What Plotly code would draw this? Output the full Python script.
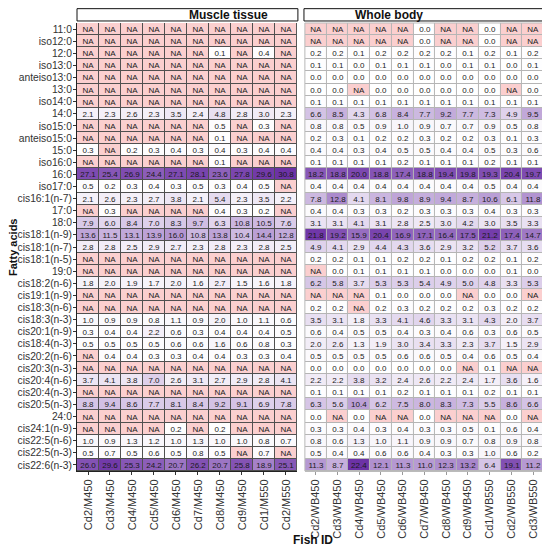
import plotly.graph_objects as go

NA = None
fatty_acids = ["11:0", "iso12:0", "12:0", "iso13:0", "anteiso13:0", "13:0", "iso14:0", "14:0",
               "iso15:0", "anteiso15:0", "15:0", "iso16:0", "16:0", "iso17:0", "cis16:1(n-7)", "17:0",
               "18:0", "cis18:1(n-9)", "cis18:1(n-7)", "cis18:1(n-5)", "19:0", "cis18:2(n-6)",
               "cis19:1(n-9)", "cis18:3(n-6)", "cis18:3(n-3)", "cis20:1(n-9)", "cis18:4(n-3)",
               "cis20:2(n-6)", "cis20:3(n-3)", "cis20:4(n-6)", "cis20:4(n-3)", "cis20:5(n-3)", "24:0",
               "cis24:1(n-9)", "cis22:5(n-6)", "cis22:5(n-3)", "cis22:6(n-3)"]

muscle_ids = ["Cd2/M450", "Cd3/M450", "Cd4/M450", "Cd5/M450", "Cd6/M450", "Cd7/M450",
              "Cd8/M450", "Cd9/M450", "Cd1/M550", "Cd2/M550"]
wb_ids = ["Cd2/WB450", "Cd3/WB450", "Cd4/WB450", "Cd5/WB450", "Cd6/WB450", "Cd7/WB450",
          "Cd8/WB450", "Cd9/WB450", "Cd1/WB550", "Cd2/WB550", "Cd3/WB550"]

A10 = [NA] * 10
muscle_values = [
    A10, A10,
    [NA, NA, NA, NA, NA, NA, 0.1, NA, 0.4, NA],
    A10, A10, A10, A10,
    [2.1, 2.3, 2.6, 2.3, 3.5, 2.4, 4.8, 2.8, 3.0, 2.3],
    [NA, NA, NA, NA, NA, NA, 0.5, NA, 0.3, NA],
    [NA, NA, NA, NA, NA, NA, 0.1, NA, NA, NA],
    [0.3, NA, 0.2, 0.3, 0.4, 0.3, 0.4, 0.3, 0.4, 0.4],
    [NA, NA, NA, NA, NA, NA, 0.1, NA, NA, NA],
    [27.1, 25.4, 26.9, 24.4, 27.1, 28.1, 23.6, 27.8, 29.6, 30.8],
    [0.5, 0.2, 0.3, 0.4, 0.3, 0.5, 0.3, 0.4, 0.5, NA],
    [2.1, 2.6, 2.3, 2.7, 3.8, 2.1, 5.4, 2.3, 3.5, 2.2],
    [NA, 0.3, NA, NA, NA, NA, 0.4, 0.3, 0.2, NA],
    [7.9, 6.0, 8.4, 7.0, 8.3, 9.7, 6.3, 10.8, 10.5, 7.6],
    [13.6, 11.5, 13.1, 13.9, 16.0, 10.8, 13.8, 10.4, 14.4, 12.8],
    [2.8, 2.8, 2.5, 2.9, 2.7, 2.3, 2.8, 2.3, 2.8, 2.5],
    A10, A10,
    [1.8, 2.0, 1.9, 1.7, 2.0, 1.6, 2.7, 1.5, 1.6, 1.8],
    A10, A10,
    [1.0, 0.9, 0.9, 0.8, 1.1, 0.9, 2.0, 1.0, 1.1, 0.6],
    [0.3, 0.4, 0.4, 2.2, 0.6, 0.3, 0.4, 0.4, 0.4, 0.5],
    [0.5, 0.5, 0.5, 0.5, 0.6, 0.6, 1.6, 0.6, 0.8, 0.3],
    [NA, 0.4, 0.4, 0.3, 0.3, 0.4, 0.4, 0.3, 0.3, 0.4],
    A10,
    [3.7, 4.1, 3.8, 7.0, 2.6, 3.1, 2.7, 2.9, 2.8, 4.1],
    A10,
    [8.8, 9.4, 8.6, 7.7, 8.1, 8.4, 9.2, 9.1, 6.9, 7.8],
    A10,
    [NA, NA, NA, NA, 0.2, NA, 0.2, NA, NA, NA],
    [1.0, 0.9, 1.3, 1.2, 1.0, 1.3, 1.0, 1.0, 0.8, 0.7],
    [0.5, 0.7, 0.5, 0.6, 0.5, 0.8, 0.5, NA, 0.7, NA],
    [26.0, 29.6, 25.3, 24.2, 20.7, 26.2, 20.7, 25.8, 18.9, 25.1],
]

wb_values = [
    [NA, NA, NA, NA, NA, 0.0, NA, NA, 0.0, NA, NA],
    [NA, NA, NA, NA, NA, 0.0, NA, NA, 0.0, NA, NA],
    [0.2, 0.2, 0.1, 0.2, 0.2, 0.2, 0.2, 0.1, 0.2, 0.1, 0.2],
    [0.1, 0.1, 0.0, 0.1, 0.1, 0.1, 0.0, 0.1, 0.1, 0.0, 0.1],
    [0.0, 0.0, 0.0, 0.0, 0.0, 0.0, 0.0, 0.0, 0.0, 0.0, 0.0],
    [0.0, 0.0, NA, 0.0, 0.0, 0.0, 0.0, 0.0, 0.0, NA, 0.0],
    [0.1, 0.1, 0.1, 0.1, 0.1, 0.1, 0.1, 0.1, 0.1, 0.1, 0.1],
    [6.6, 8.5, 4.3, 6.8, 8.4, 7.7, 9.2, 7.7, 7.3, 4.9, 9.5],
    [0.8, 0.8, 0.5, 0.9, 1.0, 0.9, 0.7, 0.7, 0.9, 0.5, 0.8],
    [0.2, 0.3, 0.1, 0.2, 0.2, 0.3, 0.2, 0.2, 0.3, 0.1, 0.3],
    [0.4, 0.4, 0.3, 0.4, 0.5, 0.5, 0.4, 0.4, 0.5, 0.3, 0.6],
    [0.1, 0.1, 0.1, 0.1, 0.2, 0.1, 0.1, 0.1, 0.2, 0.1, 0.1],
    [18.2, 18.8, 20.0, 18.8, 17.4, 18.8, 19.4, 19.8, 19.3, 20.4, 19.7],
    [0.4, 0.4, 0.4, 0.4, 0.4, 0.4, 0.4, 0.4, 0.5, 0.4, 0.4],
    [7.8, 12.8, 4.1, 8.1, 9.8, 8.9, 9.4, 8.7, 10.6, 6.1, 11.8],
    [0.4, 0.4, 0.3, 0.3, 0.2, 0.3, 0.3, 0.3, 0.4, 0.3, 0.3],
    [3.1, 3.1, 4.1, 3.1, 2.8, 2.5, 3.0, 4.2, 3.0, 3.5, 3.3],
    [21.8, 19.2, 15.9, 20.4, 16.9, 17.1, 16.4, 17.5, 21.2, 17.4, 14.7],
    [4.9, 4.1, 2.9, 4.4, 4.3, 3.6, 2.9, 3.2, 5.2, 3.7, 3.6],
    [0.2, 0.2, 0.1, 0.1, 0.2, 0.2, 0.1, 0.2, 0.2, 0.1, 0.2],
    [NA, 0.0, 0.1, 0.1, 0.1, 0.1, 0.0, 0.0, 0.0, 0.1, 0.0],
    [6.2, 5.8, 3.7, 5.3, 5.3, 5.4, 4.9, 5.0, 4.8, 3.3, 5.3],
    [NA, NA, NA, 0.1, 0.0, 0.0, 0.0, NA, 0.0, 0.0, NA],
    [0.2, 0.2, NA, 0.2, 0.3, 0.2, 0.2, 0.2, 0.3, 0.2, 0.2],
    [3.5, 3.1, 1.8, 3.3, 4.1, 4.6, 3.3, 3.1, 4.3, 2.0, 3.7],
    [0.6, 0.4, 0.5, 0.5, 0.4, 0.3, 0.4, 0.6, 0.3, 0.6, 0.5],
    [2.0, 2.6, 1.3, 1.9, 3.0, 3.4, 3.3, 2.3, 3.7, 1.5, 2.9],
    [0.5, 0.5, 0.5, 0.5, 0.6, 0.6, 0.5, 0.4, 0.6, 0.5, 0.4],
    [0.0, 0.0, 0.0, 0.0, 0.0, 0.0, 0.0, NA, 0.1, NA, NA],
    [2.2, 2.2, 3.8, 3.2, 2.4, 2.6, 2.2, 2.4, 1.7, 3.6, 1.6],
    [0.1, 0.1, 0.1, 0.1, 0.2, 0.1, 0.1, 0.1, 0.2, 0.1, 0.1],
    [6.3, 5.6, 10.4, 6.2, 7.5, 8.0, 8.3, 7.3, 5.5, 8.6, 6.6],
    [0.0, NA, 0.0, NA, NA, 0.0, NA, NA, NA, 0.0, NA],
    [0.3, 0.3, 0.4, 0.3, 0.4, 0.3, 0.3, 0.5, 0.1, 0.6, 0.4],
    [0.8, 0.6, 1.3, 1.0, 1.1, 0.9, 0.9, 0.7, 0.8, 0.9, 0.8],
    [0.5, 0.4, 0.4, 0.6, 0.6, 0.4, 0.3, 0.3, 1.0, 0.6, 0.2],
    [11.3, 8.7, 22.4, 12.1, 11.3, 11.0, 12.3, 13.2, 6.4, 19.1, 11.2],
]

PURPLE = "#6c32a6"
PINK = "#fbcfcf"
FONT = "Liberation Sans, Arial, sans-serif"


def panel_traces(values, cols, xa):
    zmax = max(v for row in values for v in row if v is not None)
    text = [["" if v is None else f"{v:.1f}" for v in row] for row in values]
    na_z = [[1 if v is None else None for v in row] for row in values]
    na_text = [["NA" if v is None else "" for v in row] for row in values]
    main = go.Heatmap(z=values, x=cols, y=fatty_acids, text=text, texttemplate="%{text}",
                      textfont=dict(size=8, color="#1a1a1a", family=FONT),
                      colorscale=[[0, "#ffffff"], [1, PURPLE]], zmin=0, zmax=zmax,
                      xgap=1, ygap=1, showscale=False, hoverinfo="skip",
                      xaxis=xa, yaxis="y")
    na = go.Heatmap(z=na_z, x=cols, y=fatty_acids, text=na_text, texttemplate="%{text}",
                    textfont=dict(size=8, color="#1a1a1a", family=FONT),
                    colorscale=[[0, PINK], [1, PINK]], zmin=0, zmax=1,
                    xgap=1, ygap=1, showscale=False, hoverinfo="skip",
                    xaxis=xa, yaxis="y")
    return [main, na]


fig = go.Figure()
for t in panel_traces(muscle_values, muscle_ids, "x"):
    fig.add_trace(t)
for t in panel_traces(wb_values, wb_ids, "x2"):
    fig.add_trace(t)

d1 = [0.0, 0.471]
d2 = [0.488, 1.0]

axis_common = dict(type="category", tickangle=-90, ticks="outside", ticklen=3,
                   tickfont=dict(size=11, color="#333333", family=FONT),
                   showgrid=False, zeroline=False, showline=True, mirror=False,
                   automargin=False)

fig.update_layout(
    width=542, height=543,
    margin=dict(l=69, r=6, t=15, b=80, autoexpand=False),
    paper_bgcolor="white", plot_bgcolor="white",
    font=dict(family=FONT),
    xaxis=dict(domain=d1, anchor="y", linecolor="#222222", tickcolor="#333333", **axis_common),
    xaxis2=dict(domain=d2, anchor="y", linecolor="#bbbbbb", tickcolor="#999999", **axis_common),
    yaxis=dict(type="category", categoryorder="array", categoryarray=fatty_acids,
               tickmode="array", tickvals=fatty_acids, ticktext=fatty_acids,
               autorange="reversed", ticks="outside", ticklen=3, tickcolor="#333333",
               tickfont=dict(size=10.3, color="#333333", family=FONT),
               ticklabelstandoff=-1,
               showgrid=False, zeroline=False, showline=True, linecolor="#222222",
               automargin=False),
    shapes=[
        dict(type="rect", xref="x domain", yref="y domain", x0=0, x1=1, y0=0, y1=1,
             fillcolor="#505050", line=dict(width=0), layer="below"),
        dict(type="rect", xref="x2 domain", yref="y domain", x0=0, x1=1, y0=0, y1=1,
             fillcolor="#b5b5b5", line=dict(width=0), layer="below"),
        dict(type="rect", xref="x2 domain", yref="y domain", x0=0, x1=1, y0=0, y1=1,
             fillcolor="rgba(0,0,0,0)", line=dict(width=1, color="#bbbbbb"), layer="above"),
        dict(type="rect", xref="paper", yref="paper", x0=0.0, x1=0.473, y0=1.0045, y1=1.032,
             fillcolor="white", line=dict(width=1, color="#111111")),
        dict(type="rect", xref="paper", yref="paper", x0=0.486, x1=1.006, y0=1.0045, y1=1.032,
             fillcolor="white", line=dict(width=1, color="#111111")),
    ],
    annotations=[
        dict(text="<b>Muscle tissue</b>", xref="paper", yref="paper", x=0.2365, y=1.018,
             showarrow=False, yanchor="middle", font=dict(size=12, color="#111111", family=FONT)),
        dict(text="<b>Whole body</b>", xref="paper", yref="paper", x=0.746, y=1.018,
             showarrow=False, yanchor="middle", font=dict(size=12, color="#111111", family=FONT)),
        dict(text="<b>Fish ID</b>", xref="paper", yref="paper", x=0.505, y=-0.154,
             showarrow=False, yanchor="middle",
             font=dict(size=12, color="#111111", family=FONT)),
        dict(text="<b>Fatty acids</b>", xref="paper", yref="paper", x=-0.1478, y=0.5,
             showarrow=False, textangle=-90, xanchor="left", yanchor="middle",
             borderpad=0, xshift=-2,
             font=dict(size=11, color="#111111", family=FONT)),
    ],
)

fig.write_html("out.html")
